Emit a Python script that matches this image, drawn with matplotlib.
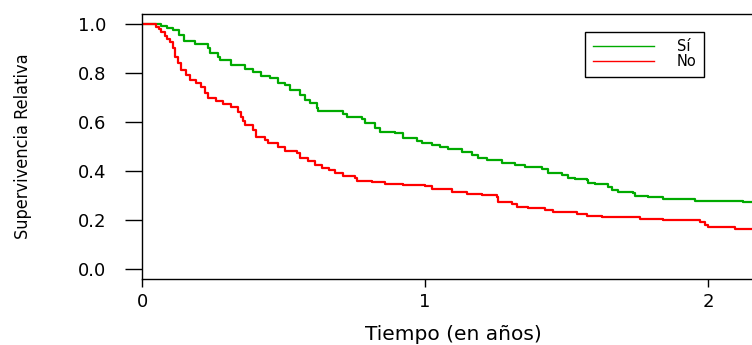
import matplotlib
matplotlib.use('Agg')
import matplotlib.pyplot as plt
from matplotlib import font_manager

# ---- datos (curvas de Kaplan-Meier) ----
t_si = [0.0, 0.067, 0.09, 0.11, 0.13, 0.15, 0.186, 0.233, 0.239, 0.27, 0.275,
        0.316, 0.363, 0.392, 0.422, 0.451, 0.48, 0.505, 0.523, 0.558, 0.576,
        0.594, 0.617, 0.623, 0.71, 0.723, 0.776, 0.788, 0.823, 0.841, 0.894,
        0.923, 0.971, 0.988, 1.023, 1.053, 1.082, 1.13, 1.165, 1.189, 1.218,
        1.271, 1.318, 1.353, 1.412, 1.436, 1.483, 1.506, 1.53, 1.571, 1.577,
        1.6, 1.648, 1.66, 1.683, 1.736, 1.742, 1.789, 1.842, 1.954, 2.125, 2.3]
s_si = [1.0, 0.995, 0.985, 0.975, 0.956, 0.93, 0.918, 0.902, 0.883, 0.868, 0.854,
        0.834, 0.816, 0.804, 0.789, 0.78, 0.759, 0.752, 0.732, 0.711, 0.691,
        0.678, 0.657, 0.647, 0.635, 0.623, 0.613, 0.596, 0.575, 0.562, 0.555,
        0.535, 0.525, 0.514, 0.507, 0.498, 0.49, 0.48, 0.467, 0.456, 0.446,
        0.435, 0.426, 0.416, 0.408, 0.392, 0.385, 0.374, 0.369, 0.364, 0.351,
        0.347, 0.337, 0.324, 0.317, 0.31, 0.299, 0.294, 0.288, 0.28, 0.273, 0.273]

t_no = [0.0, 0.051, 0.06, 0.068, 0.08, 0.09, 0.098, 0.11, 0.115, 0.127, 0.139,
        0.157, 0.168, 0.192, 0.21, 0.222, 0.233, 0.263, 0.286, 0.316, 0.339,
        0.351, 0.357, 0.363, 0.392, 0.404, 0.433, 0.445, 0.48, 0.504, 0.547,
        0.558, 0.588, 0.611, 0.635, 0.66, 0.682, 0.711, 0.753, 0.758, 0.811,
        0.859, 0.923, 1.0, 1.023, 1.094, 1.147, 1.2, 1.253, 1.259, 1.306,
        1.324, 1.365, 1.424, 1.453, 1.536, 1.571, 1.624, 1.76, 1.842, 1.972,
        1.989, 2.0, 2.095, 2.3]
s_no = [1.0, 0.99, 0.98, 0.97, 0.953, 0.94, 0.929, 0.902, 0.868, 0.841, 0.813,
        0.793, 0.773, 0.762, 0.745, 0.718, 0.698, 0.687, 0.673, 0.664, 0.643,
        0.623, 0.605, 0.589, 0.569, 0.541, 0.528, 0.514, 0.5, 0.483, 0.476,
        0.453, 0.442, 0.426, 0.415, 0.405, 0.394, 0.381, 0.371, 0.36, 0.356,
        0.348, 0.344, 0.34, 0.327, 0.317, 0.307, 0.302, 0.296, 0.276, 0.267,
        0.256, 0.249, 0.242, 0.233, 0.226, 0.218, 0.212, 0.207, 0.201, 0.194,
        0.181, 0.174, 0.166, 0.166]

x_ticks = [0, 1, 2]
y_ticks = [0.0, 0.2, 0.4, 0.6, 0.8, 1.0]
y_ticklabels = ['0.0', '0.2', '0.4', '0.6', '0.8', '1.0']
labels = ['Sí', 'No']

# buscar una fuente estrecha (condensed / narrow) para la etiqueta del eje y
fp_y = None
for f in font_manager.fontManager.ttflist:
    nm = f.name.lower()
    estrecha = ('narrow' in nm or 'condensed' in nm or
                f.stretch in ('condensed', 'semi-condensed', 'extra-condensed', 400))
    if estrecha and f.style == 'normal' and f.weight in (400, 'normal', 'regular') \
            and 'mono' not in nm and 'serif' not in nm.replace('sans', ''):
        fp_y = font_manager.FontProperties(fname=f.fname, size=13)
        break
if fp_y is None:
    fp_y = font_manager.FontProperties(family='DejaVu Sans', size=10)

plt.rcParams['font.family'] = ['DejaVu Sans']

fig = plt.figure(figsize=(7.52, 3.45), dpi=100)
# el eje se sale por la derecha (la figura original esta recortada)
ax = fig.add_axes([142 / 752, 66 / 345, 648 / 752, 265 / 345])

ax.plot(t_si, s_si, drawstyle='steps-post', color='#00AA00', lw=1.6, label=labels[0])
ax.plot(t_no, s_no, drawstyle='steps-post', color='#FF0000', lw=1.6, label=labels[1])

ax.set_xlim(0, 648 / 283)
ax.set_ylim(-0.04, 1.042)

ax.set_xticks(x_ticks)
ax.set_xticklabels([str(v) for v in x_ticks])
ax.set_yticks(y_ticks)
ax.set_yticklabels(y_ticklabels)

ax.tick_params(axis='y', direction='out', length=12.5, width=1.0, pad=13, labelsize=13)
ax.tick_params(axis='x', direction='out', length=5.8, width=1.0, pad=4.5, labelsize=13)

for sp in ax.spines.values():
    sp.set_linewidth(1.0)
    sp.set_color('black')

ax.set_xlabel('Tiempo (en años)', fontsize=14.5)
ax.xaxis.set_label_coords(0.481, -0.172)
ax.set_ylabel('Supervivencia Relativa', fontproperties=fp_y)
ax.yaxis.set_label_coords(-0.17, 0.5)

leg = ax.legend(loc='upper left', bbox_to_anchor=(0.684, 0.932), fontsize=10.5,
                frameon=True, fancybox=False, framealpha=1, edgecolor='black',
                handlelength=4.2, handletextpad=1.6, borderpad=0.5,
                labelspacing=0.0, borderaxespad=0)
leg.get_frame().set_linewidth(1.0)
for ln in leg.get_lines():
    ln.set_linewidth(1.0)

fig.savefig('out.png', dpi=100)
